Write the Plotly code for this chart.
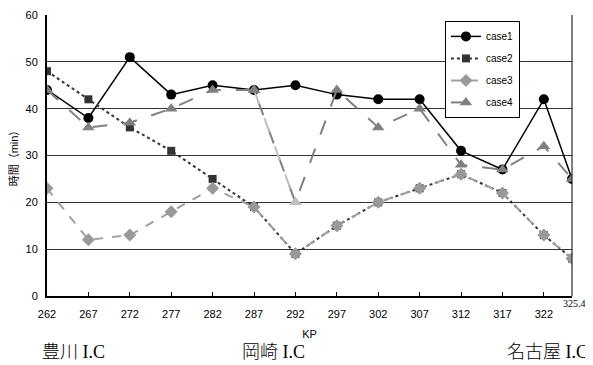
import plotly.graph_objects as go

kp = [262, 267, 272, 277, 282, 287, 292, 297, 302, 307, 312, 317, 322, 325.4]
tick_vals = [262, 267, 272, 277, 282, 287, 292, 297, 302, 307, 312, 317, 322]
case1 = [44, 38, 51, 43, 45, 44, 45, 43, 42, 42, 31, 27, 42, 25]
case2 = [48, 42, 36, 31, 25, 19, 9, 15, 20, 23, 26, 22, 13, 8]
case3 = [23, 12, 13, 18, 23, 19, 9, 15, 20, 23, 26, 22, 13, 8]
case4 = [44, 36, 37, 40, 44, 44, 20, 44, 36, 40, 28, 27, 32, 25]
ic_labels = ["豊川 I.C", "岡崎 I.C", "名古屋 I.C"]
end_label = "325.4"

gothic = "Liberation Sans, Noto Sans CJK JP, sans-serif"
serif = "Liberation Serif, Noto Sans CJK JP, serif"

fig = go.Figure()
fig.add_trace(go.Scatter(x=kp, y=case1, name="case1", mode="lines+markers", legendgroup="g1",
                         line=dict(color="black", width=1.5),
                         marker=dict(symbol="circle", size=10, color="black")))
fig.add_trace(go.Scatter(x=kp, y=case2, name="case2", mode="lines+markers", legendgroup="g2",
                         line=dict(color="#333333", width=2, dash="dot"),
                         marker=dict(symbol="square", size=8, color="#333333")))
fig.add_trace(go.Scatter(x=kp, y=case3, name="case3", mode="lines+markers", legendgroup="g3",
                         line=dict(color="#a0a0a0", width=2, dash="dash"),
                         marker=dict(symbol="diamond", size=10, color="#999999")))
c4_colors = ["#808080"] * len(kp)
c4_colors[6] = "#c0c0c0"
fig.add_trace(go.Scatter(x=kp, y=case4, name="case4", mode="lines+markers", legendgroup="g4",
                         line=dict(color="#808080", width=2, dash="longdash"),
                         marker=dict(symbol="triangle-up", size=11, color=c4_colors)))
# lighter segment of case4 between KP 287 and 292
fig.add_trace(go.Scatter(x=kp[5:7], y=case4[5:7], mode="lines+markers", showlegend=False,
                         legendgroup="g4",
                         line=dict(color="#c0c0c0", width=2, dash="longdash"),
                         marker=dict(symbol="triangle-up", size=11,
                                     color=["#808080", "#c0c0c0"]),
                         hoverinfo="skip"))

# page body has an 8px margin; figure is sized to fit the 593x365 window
fig.update_layout(
    width=585, height=357,
    margin=dict(l=39, r=21, t=7, b=69, autoexpand=False),
    paper_bgcolor="white", plot_bgcolor="white",
    font=dict(family=gothic, size=11, color="black"),
    showlegend=True,
    legend=dict(x=0.758, y=0.979, xanchor="left", yanchor="top",
                bgcolor="white", bordercolor="black", borderwidth=1,
                font=dict(size=10, family=gothic), traceorder="grouped",
                tracegroupgap=3),
    xaxis=dict(range=[262, 325.4], tickvals=tick_vals, ticktext=[str(v) for v in tick_vals],
               showgrid=False, zeroline=False, showline=True, linecolor="black", linewidth=2,
               ticks="inside", ticklen=4, tickcolor="black", tickfont=dict(size=11),
               automargin=False, ticklabelstandoff=7,
               title=dict(text="KP", font=dict(size=11), standoff=11)),
    yaxis=dict(range=[0, 60], dtick=10, showgrid=True, gridcolor="#333333", gridwidth=1,
               zeroline=False, showline=True, linecolor="black", linewidth=2,
               ticks="", tickfont=dict(size=11), automargin=False, ticklabelstandoff=5,
               title=dict(text="時間（min）", font=dict(size=11), standoff=12)),
)

fig.add_shape(type="line", xref="paper", yref="paper", x0=1, x1=1, y0=0, y1=1,
              line=dict(color="black", width=1))

fig.add_annotation(text=end_label, xref="paper", yref="paper", x=1.03, y=-0.026,
                   xanchor="right", yanchor="middle", showarrow=False,
                   font=dict(family=serif, size=10))
ic_pos = [(-0.013, "left"), (0.368, "left"), (1.034, "right")]
for label, (px, anc) in zip(ic_labels, ic_pos):
    fig.add_annotation(text=label, xref="paper", yref="paper", x=px, y=-0.2,
                       xanchor=anc, yanchor="middle", showarrow=False,
                       font=dict(family=serif, size=18, weight=300))

fig.write_html("out.html")
